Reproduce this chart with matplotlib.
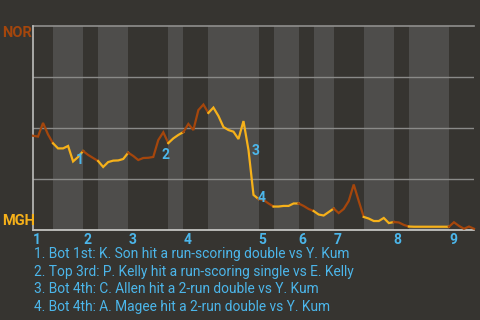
import matplotlib
matplotlib.use("Agg")
import matplotlib.pyplot as plt

# NOR win probability (%) after each plate appearance
win_prob = [46.2, 45.8, 52.5, 46.8, 42.5, 40.0, 40.0, 41.2, 33.6, 35.8,
            38.7, 36.8, 35.3, 33.8, 30.9, 33.3, 34.0, 34.1, 34.8, 37.9,
            36.3, 34.3, 35.3, 35.4, 35.8, 44.1, 47.9, 42.6, 44.9, 46.6,
            48.0, 52.0, 49.0, 58.8, 61.5, 57.4, 60.0, 55.9, 50.5, 49.0,
            48.2, 44.6, 53.4, 39.2, 17.2, 15.2, 14.7, 13.0, 11.5, 11.5,
            11.8, 11.8, 13.0, 13.0, 11.8, 10.3, 9.3, 7.6, 7.1, 8.8,
            10.5, 8.3, 10.3, 14.2, 22.3, 14.2, 6.4, 5.6, 4.4, 4.4,
            5.9, 3.4, 3.9, 3.7, 2.5, 1.7, 1.6, 1.6, 1.6, 1.6,
            1.6, 1.6, 1.6, 1.6, 3.8, 2.0, 0.6, 1.7, 0.6]

# half-inning start indices (top 1, bot 1, top 2, ...) and end
half_starts = [0, 4, 10, 13, 19, 27, 30, 35, 45, 48, 53, 56, 60, 66, 72, 75, 83, 88]
inning_labels = ["1", "2", "3", "4", "5", "6", "7", "8", "9"]

# key events: (label, index)
event_labels = ["1", "2", "3", "4"]
event_index = [8, 25, 43, 44]
event_offsets = [(2, 1), (2.5, -11), (2, -1), (3, -2)]  # points

notes = ["1. Bot 1st: K. Son hit a run-scoring double vs Y. Kum",
         "2. Top 3rd: P. Kelly hit a run-scoring single vs E. Kelly",
         "3. Bot 4th: C. Allen hit a 2-run double vs Y. Kum",
         "4. Bot 4th: A. Magee hit a 2-run double vs Y. Kum"]

away_team, home_team = "NOR", "MGH"

BG = "#363430"
BAND = "#4e4d4b"
AWAY_C = "#a5460c"
HOME_C = "#f6b11a"
BLUE = "#4cb6ea"
FONT = "Roboto"

fig = plt.figure(figsize=(4.8, 3.2), dpi=100, facecolor=BG)
ax = fig.add_axes([33/480, 1-230/320, 441/480, 204/320])
ax.set_facecolor(BG)
ax.set_xlim(0, half_starts[-1])
ax.set_ylim(0, 100)

# shading for bottom halves
for k in range(1, len(half_starts) - 1, 2):
    ax.axvspan(half_starts[k], half_starts[k + 1], color=BAND, lw=0, zorder=0)

for gy in [25, 50, 75]:
    ax.axhline(gy, color="#8a8a88", lw=1.0, zorder=1)
ax.axhline(100, color="#8f8f8d", lw=1.2, zorder=1, clip_on=False)
ax.axhline(0, color="#cfcfcd", lw=1.2, zorder=1, clip_on=False)
ax.axvline(0, color="#bdbdbb", lw=1.2, zorder=1, clip_on=False)

# line, coloured by half inning
xs = list(range(len(win_prob)))
for k in range(len(half_starts) - 1):
    s, e = half_starts[k], half_starts[k + 1]
    c = AWAY_C if k % 2 == 0 else HOME_C
    ax.plot(xs[s:e + 1], win_prob[s:e + 1], color=c, lw=1.6,
            solid_joinstyle="miter", zorder=3, clip_on=False)

for lab, idx, off in zip(event_labels, event_index, event_offsets):
    ax.annotate(lab, (xs[idx], win_prob[idx]), xytext=off, textcoords="offset points",
                ha="left", va="center", color=BLUE, fontsize=10, fontweight="bold",
                family=FONT, zorder=4)

for sp in ax.spines.values():
    sp.set_visible(False)
ax.set_yticks([])
ax.set_xticks([half_starts[k] for k in range(0, len(half_starts) - 1, 2)])
ax.set_xticklabels(inning_labels)
ax.tick_params(axis="x", length=0, pad=2, colors=BLUE, labelsize=10)
for t in ax.get_xticklabels():
    t.set_ha("left")
    t.set_fontweight("bold")
    t.set_family(FONT)

fig.text(2/480, 1-33/320, away_team, color=AWAY_C, fontsize=10.5, fontweight="bold",
         family=FONT, ha="left", va="center")
fig.text(2/480, 1-221/320, home_team, color=HOME_C, fontsize=10.5, fontweight="bold",
         family=FONT, ha="left", va="center")

for i, line in enumerate(notes):
    fig.text(34/480, 1-(254 + 17.7*i)/320, line, color=BLUE, fontsize=9.9,
             family=FONT, ha="left", va="center")

fig.savefig("out.png", dpi=100, facecolor=BG)
